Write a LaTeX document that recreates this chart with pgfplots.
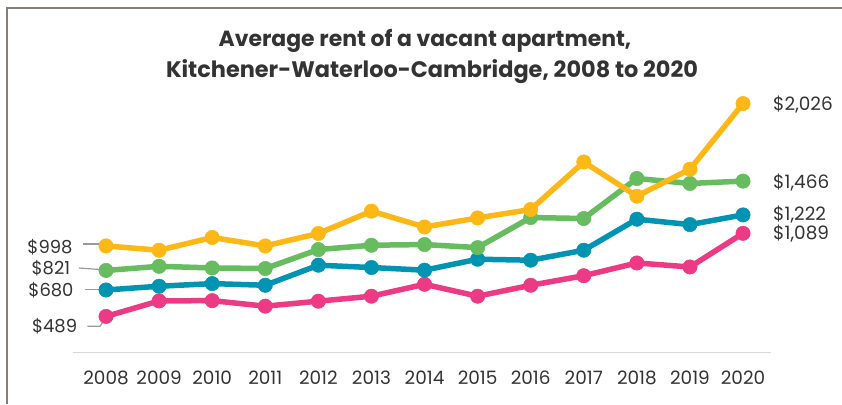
\documentclass[border=0pt]{standalone}
\usepackage{pgfplots}
\pgfplotsset{compat=1.18}
\usepackage{fontspec}
\setmainfont{Poppins}
\definecolor{cOrange}{HTML}{FDB817}
\definecolor{cGreen}{HTML}{66BC5E}
\definecolor{cTeal}{HTML}{0093B2}
\definecolor{cPink}{HTML}{ED3A84}
\definecolor{frameC}{HTML}{877C78}
\definecolor{txt}{HTML}{333333}
\definecolor{lead}{HTML}{9A9A9A}
\begin{document}
\begin{tikzpicture}[x=1bp,y=1bp]
\path[use as bounding box] (0,0) rectangle (842,404);
\draw[frameC, line width=2bp] (7,0) -- (7,396) -- (842,396);
\node[anchor=base, text=txt, font=\fontsize{22}{22}\selectfont\bfseries] at (425,357.3) {Average rent of a vacant apartment,};
\node[anchor=base, text=txt, font=\fontsize{22.5}{22.5}\selectfont\bfseries] at (432,326.7) {Kitchener-Waterloo-Cambridge, 2008 to 2020};
% leader lines
\draw[lead, line width=1.2bp] (83,160) -- (102,160);
\draw[lead, line width=1.2bp] (79,136) -- (100,134.5);
\draw[lead, line width=1.2bp] (85,114.3) -- (100,114.3);
\draw[lead, line width=1.2bp] (87.3,77.7) -- (100,77.7) -- (106,87.3);
% value labels
\begin{scope}[every node/.style={text=txt, font=\fontsize{18}{18}\selectfont, inner sep=0pt}]
\node[anchor=base east] at (72.7,150.7) {\$998};
\node[anchor=base east] at (70.3,129.7) {\$821};
\node[anchor=base east] at (73.7,108) {\$680};
\node[anchor=base east] at (77.3,71.3) {\$489};
\end{scope}
\begin{scope}[every node/.style={text=txt, font=\fontsize{18.5}{18.5}\selectfont, inner sep=0pt}]
\node[anchor=base west] at (773,294) {\$2,026};
\node[anchor=base west] at (773,215.7) {\$1,466};
\node[anchor=base west] at (773,184) {\$1,222};
\node[anchor=base west] at (773,164.5) {\$1,089};
\end{scope}
\begin{axis}[
  at={(73bp,51.7bp)}, anchor=south west,
  scale only axis, width=698bp, height=259bp,
  xmin=2007.378, xmax=2020.527, ymin=230, ymax=2100,
  axis x line*=bottom, axis y line=none, ytick=\empty,
  x axis line style={draw=black!15, line width=1.5bp, -},
  xtick={2008,2009,2010,2011,2012,2013,2014,2015,2016,2017,2018,2019,2020},
  major tick length=0pt,
  xticklabel style={anchor=base, yshift=-32bp, text=txt, font=\fontsize{18.5}{18.5}\selectfont},
  /pgf/number format/1000 sep={},
  /pgf/number format/assume math mode=true,
  clip=false,
  every axis plot/.append style={line width=5.5bp, mark=*, mark size=7.2bp, mark options={line width=0.5bp}},
]
\addplot[cPink] coordinates {(2008,489)(2009,601)(2010,603)(2011,563)(2012,599)(2013,635)(2014,721)(2015,635)(2016,714)(2017,783)(2018,875)(2019,846)(2020,1089)};
\addplot[cTeal] coordinates {(2008,680)(2009,707)(2010,726)(2011,714)(2012,859)(2013,842)(2014,823)(2015,902)(2016,895)(2017,967)(2018,1191)(2019,1152)(2020,1222)};
\addplot[cGreen] coordinates {(2008,821)(2009,851)(2010,839)(2011,835)(2012,972)(2013,1003)(2014,1008)(2015,986)(2016,1203)(2017,1196)(2018,1485)(2019,1449)(2020,1466)};
\addplot[cOrange] coordinates {(2008,998)(2009,967)(2010,1059)(2011,998)(2012,1088)(2013,1249)(2014,1135)(2015,1200)(2016,1261)(2017,1604)(2018,1357)(2019,1552)(2020,2026)};
\end{axis}
\end{tikzpicture}
\end{document}
